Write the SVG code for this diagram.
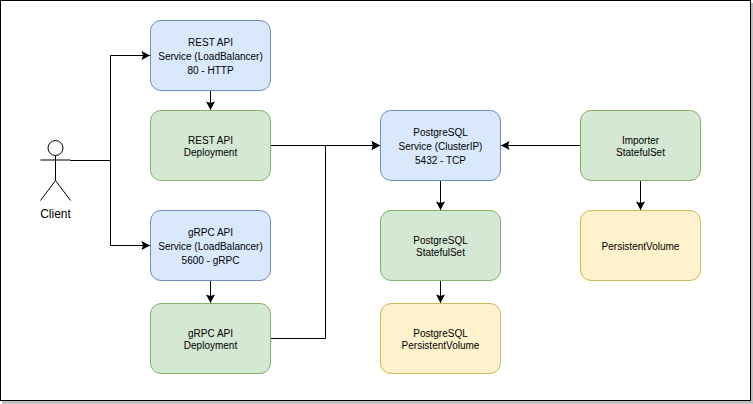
<svg xmlns="http://www.w3.org/2000/svg" width="753" height="404" viewBox="0 0 753 404">
<style>
.box{stroke-width:1}
.blue{fill:#dae8fc;stroke:#6c8ebf}
.green{fill:#d5e8d4;stroke:#82b366}
.yellow{fill:#fff2cc;stroke:#d6b656}
text{font-family:"Liberation Sans",Arial,Helvetica,sans-serif;font-size:10px;fill:#000;text-anchor:middle}
.conn{fill:none;stroke:#000;stroke-width:1}
.actor{fill:none;stroke:#000;stroke-width:1}
</style>
<defs>
<marker id="arrow" markerUnits="userSpaceOnUse" markerWidth="12" markerHeight="12" refX="9" refY="6" orient="auto">
<path d="M9 6L0.5 1.5L2 6L0.5 10.5Z" fill="#000"/>
</marker>
</defs>
<rect id="shadow" x="2" y="3" width="751" height="401" fill="#c0c0c0"/>
<rect id="frame" x="0.5" y="0.5" width="750" height="400" fill="#fff" stroke="#000"/>
<g id="connectors">
<path class="conn" d="M70.5 160.5H110.5V55.5H150" marker-end="url(#arrow)"/>
<path class="conn" d="M70.5 160.5H110.5V245.5H150" marker-end="url(#arrow)"/>
<path class="conn" d="M210.5 90.5V110" marker-end="url(#arrow)"/>
<path class="conn" d="M210.5 280.5V303" marker-end="url(#arrow)"/>
<path class="conn" d="M270.5 145.5H380" marker-end="url(#arrow)"/>
<path class="conn" d="M270.5 338.5H325.5V145.5H380" marker-end="url(#arrow)"/>
<path class="conn" d="M440.5 180.5V210" marker-end="url(#arrow)"/>
<path class="conn" d="M440.5 280.5V303" marker-end="url(#arrow)"/>
<path class="conn" d="M580.5 145.5H501" marker-end="url(#arrow)"/>
<path class="conn" d="M640.5 180.5V210" marker-end="url(#arrow)"/>
</g>
<g id="client">
<circle class="actor" cx="55.5" cy="148" r="7.5"/>
<path class="actor" d="M55.5 155.5V180.5M40.5 160H70.5M55.5 180.5L40.5 200.5M55.5 180.5L70.5 200.5"/>
<text x="55.5" y="218" style="font-size:12px">Client</text>
</g>
<g id="rest-service">
<rect class="box blue" x="150.5" y="20.5" width="120" height="70" rx="10.5"/>
<text x="210.5" y="46">REST API</text><text x="210.5" y="60">Service (LoadBalancer)</text><text x="210.5" y="74">80 - HTTP</text>
</g>
<g id="rest-deployment">
<rect class="box green" x="150.5" y="110.5" width="120" height="70" rx="10.5"/>
<text x="210.5" y="144">REST API</text><text x="210.5" y="156">Deployment</text>
</g>
<g id="grpc-service">
<rect class="box blue" x="150.5" y="210.5" width="120" height="70" rx="10.5"/>
<text x="210.5" y="236">gRPC API</text><text x="210.5" y="250">Service (LoadBalancer)</text><text x="210.5" y="264">5600 - gRPC</text>
</g>
<g id="grpc-deployment">
<rect class="box green" x="150.5" y="303.5" width="120" height="70" rx="10.5"/>
<text x="210.5" y="337">gRPC API</text><text x="210.5" y="349">Deployment</text>
</g>
<g id="postgres-service">
<rect class="box blue" x="380.5" y="110.5" width="120" height="70" rx="10.5"/>
<text x="440.5" y="136">PostgreSQL</text><text x="440.5" y="150">Service (ClusterIP)</text><text x="440.5" y="164">5432 - TCP</text>
</g>
<g id="postgres-statefulset">
<rect class="box green" x="380.5" y="210.5" width="120" height="70" rx="10.5"/>
<text x="440.5" y="244">PostgreSQL</text><text x="440.5" y="256">StatefulSet</text>
</g>
<g id="postgres-volume">
<rect class="box yellow" x="380.5" y="303.5" width="120" height="70" rx="10.5"/>
<text x="440.5" y="337">PostgreSQL</text><text x="440.5" y="349">PersistentVolume</text>
</g>
<g id="importer-statefulset">
<rect class="box green" x="580.5" y="110.5" width="120" height="70" rx="10.5"/>
<text x="640.5" y="144">Importer</text><text x="640.5" y="156">StatefulSet</text>
</g>
<g id="importer-volume">
<rect class="box yellow" x="580.5" y="210.5" width="120" height="70" rx="10.5"/>
<text x="640.5" y="250">PersistentVolume</text>
</g>
</svg>
